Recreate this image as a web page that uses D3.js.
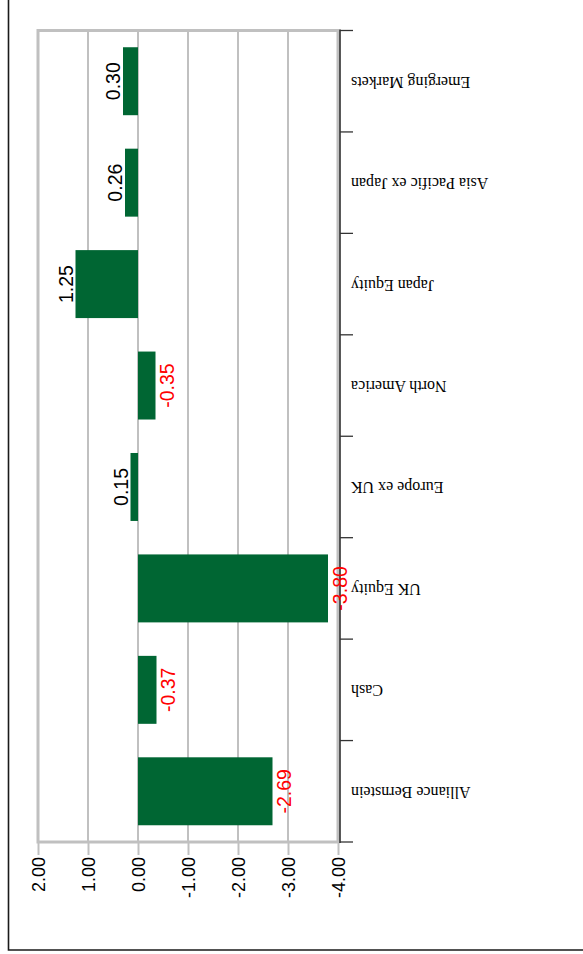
<!DOCTYPE html>
<html>
<head>
<meta charset="utf-8">
<script src="https://cdn.jsdelivr.net/npm/d3@7"></script>
<style>
  html, body { margin: 0; padding: 0; background: #fff; }
  svg { display: block; }
</style>
</head>
<body>
<script>
// Relative performance by region (percentage points)
const categories = [
  "Emerging Markets",
  "Asia Pacific ex Japan",
  "Japan Equity",
  "North America",
  "Europe ex UK",
  "UK Equity",
  "Cash",
  "Alliance Bernstein"
];
const values = [0.30, 0.26, 1.25, -0.35, 0.15, -3.80, -0.37, -2.69];
const tickValues = [2, 1, 0, -1, -2, -3, -4];
const tickLabels = ["2.00", "1.00", "0.00", "-1.00", "-2.00", "-3.00", "-4.00"];

const W = 583, H = 954;
const plot = { left: 38, right: 338, top: 30.5, bottom: 842 };

const svg = d3.select("body").append("svg")
  .attr("width", W).attr("height", H);

// Outer frame (left and bottom edges)
svg.append("path")
  .attr("d", `M8.5,0 V950 H${W}`)
  .attr("fill", "none")
  .attr("stroke", "#1a1a1a")
  .attr("stroke-width", 1.6);

// Value scale runs horizontally, positive to the left
const x = d3.scaleLinear().domain([2, -4]).range([plot.left, plot.right]);

// Categories stacked vertically
const y = d3.scaleBand()
  .domain(categories)
  .range([plot.top, plot.bottom])
  .paddingInner(0.33)
  .paddingOuter(0.165);
const step = y.step();

const data = categories.map((c, i) => ({ cat: c, val: values[i] }));

// Inner gridlines
svg.append("g").selectAll("line")
  .data(tickValues.slice(1, -1))
  .join("line")
  .attr("x1", d => x(d)).attr("x2", d => x(d))
  .attr("y1", plot.top).attr("y2", plot.bottom)
  .attr("stroke", "#c0c0c0")
  .attr("stroke-width", 2);

// Plot frame (left, top, bottom, right edges in grey)
svg.append("rect")
  .attr("x", x(2)).attr("y", plot.top)
  .attr("width", x(-4) - x(2)).attr("height", plot.bottom - plot.top)
  .attr("fill", "none")
  .attr("stroke", "#c0c0c0")
  .attr("stroke-width", 3);

// Value axis along the bottom
const xAxis = svg.append("g")
  .attr("transform", `translate(0,${plot.bottom})`)
  .call(d3.axisBottom(x)
    .tickValues(tickValues)
    .tickFormat((d, i) => tickLabels[i])
    .tickSize(13)
    .tickPadding(0));
xAxis.select(".domain").remove();
xAxis.selectAll(".tick line")
  .attr("stroke", "#c0c0c0")
  .attr("stroke-width", 2);
xAxis.selectAll(".tick text")
  .attr("transform", "translate(6.5,15) rotate(-90)")
  .attr("x", 0).attr("y", 0).attr("dy", null)
  .attr("text-anchor", "end")
  .attr("fill", "#000")
  .style("font-family", "'Liberation Sans', Arial, sans-serif")
  .style("font-size", "18px");

// Bars
svg.append("g").selectAll("rect")
  .data(data)
  .join("rect")
  .attr("x", d => Math.min(x(d.val), x(0)))
  .attr("width", d => Math.abs(x(d.val) - x(0)))
  .attr("y", d => y(d.cat))
  .attr("height", y.bandwidth())
  .attr("fill", "#006633");

// Category axis on the right
const axisX = 340;
svg.append("line")
  .attr("x1", axisX).attr("x2", axisX)
  .attr("y1", plot.top - 1).attr("y2", plot.bottom + 1)
  .attr("stroke", "#222")
  .attr("stroke-width", 1.5);

const bounds = categories.map(c => y(c) - step * y.paddingInner() / 2)
  .concat([plot.bottom]);
svg.append("g").selectAll("line")
  .data(bounds)
  .join("line")
  .attr("x1", axisX).attr("x2", 353)
  .attr("y1", d => d).attr("y2", d => d)
  .attr("stroke", "#333")
  .attr("stroke-width", 1.3);

// Category labels, drawn upside down
svg.append("g").selectAll("text")
  .data(categories)
  .join("text")
  .attr("transform", d => `translate(351,${y(d) + y.bandwidth() / 2}) rotate(180)`)
  .attr("text-anchor", "end")
  .attr("dy", "0.28em")
  .attr("fill", "#000")
  .style("font-family", "'Liberation Serif', 'Times New Roman', serif")
  .style("font-size", "16px")
  .text(d => d);

// Value labels at the bar ends
svg.append("g").selectAll("text")
  .data(data)
  .join("text")
  .attr("transform", d => {
    const end = x(d.val);
    const bx = d.val >= 0 ? end - 3 : end + 18.5;
    return `translate(${bx},${y(d.cat) + y.bandwidth() / 2}) rotate(-90)`;
  })
  .attr("text-anchor", "middle")
  .attr("fill", d => d.val >= 0 ? "#000" : "#ff0000")
  .style("font-family", "'Liberation Sans', Arial, sans-serif")
  .style("font-size", "19.5px")
  .text(d => d.val.toFixed(2));
</script>
</body>
</html>
